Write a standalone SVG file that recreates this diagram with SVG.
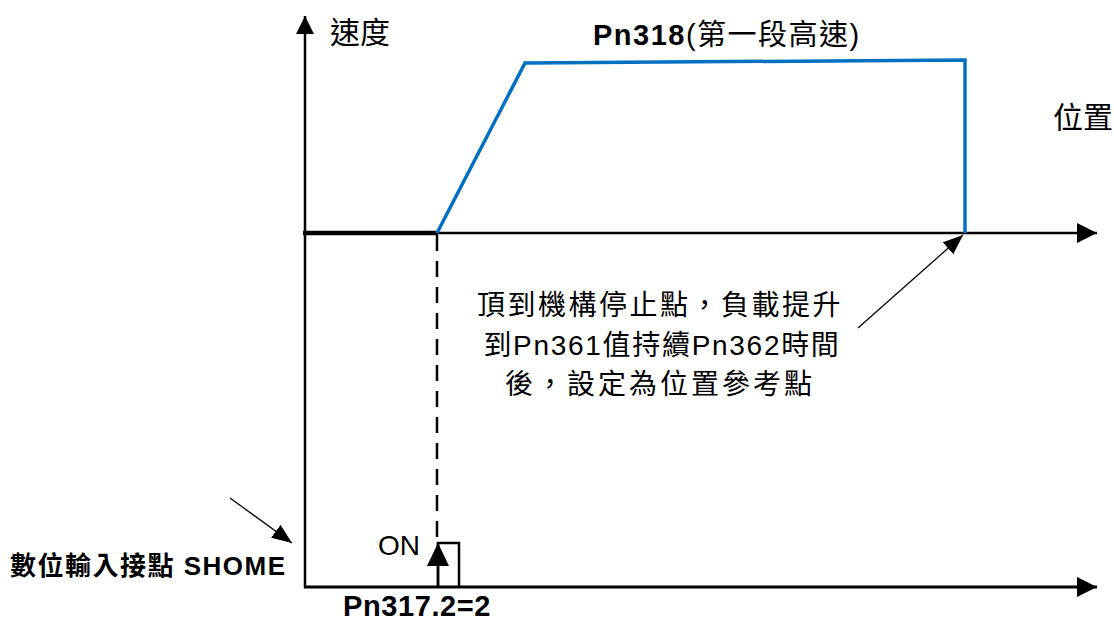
<svg xmlns="http://www.w3.org/2000/svg" width="1114" height="624" viewBox="0 0 1114 624">
<style>
.t{font-family:"Liberation Sans","Noto Sans CJK TC",sans-serif;fill:#000}
.cjk{font-family:"Noto Sans CJK TC","Liberation Sans",sans-serif;fill:#000}
.ax{stroke:#000;fill:none}
</style>
<defs>
<marker id="ahY" markerUnits="userSpaceOnUse" markerWidth="18" markerHeight="18" refX="18" refY="9" orient="auto" viewBox="0 0 18 18"><path d="M0,0L18,9L0,18z" fill="#000"/></marker>
<marker id="ahX" markerUnits="userSpaceOnUse" markerWidth="20" markerHeight="20" refX="20" refY="10" orient="auto" viewBox="0 0 20 20"><path d="M0,0L20,10L0,20z" fill="#000"/></marker>
<marker id="ahOn" markerUnits="userSpaceOnUse" markerWidth="23" markerHeight="22" refX="23" refY="11" orient="auto" viewBox="0 0 23 22"><path d="M0,0L23,11L0,22z" fill="#000"/></marker>
<marker id="ahS" markerUnits="userSpaceOnUse" markerWidth="20" markerHeight="16" refX="20" refY="8" orient="auto" viewBox="0 0 20 16"><path d="M0,0L20,8L0,16z" fill="#000"/></marker>
</defs>
<rect width="1114" height="624" fill="#fff"/>
<g id="connectors">
<path class="ax" d="M305,588V16" stroke-width="2.5" marker-end="url(#ahY)"/>
<path class="ax" d="M303,233H1097" stroke-width="2.5" marker-end="url(#ahX)"/>
<path class="ax" d="M303,233H438" stroke-width="4.5"/>
<path class="ax" d="M304,587H1097" stroke-width="3" marker-end="url(#ahX)"/>
<path class="ax" d="M437,235V541" stroke-width="2.5" stroke-dasharray="16 10"/>
<path d="M437,233L525,63L965,60V233" fill="none" stroke="#0070C0" stroke-width="3.5"/>
<path class="ax" d="M438,587V543H459V587" stroke-width="2.5"/>
<path class="ax" d="M438,587V543" stroke-width="2.5" marker-end="url(#ahOn)"/>
<path class="ax" d="M230,498L292,543" stroke-width="1.3" marker-end="url(#ahS)"/>
<path class="ax" d="M858,328L963,235" stroke-width="1.3" marker-end="url(#ahS)"/>
</g>
<g id="label-speed"><text class="cjk" x="330" y="43" font-size="30">速度</text></g>
<g id="label-pn318"><text class="t" x="593" y="45" font-size="29" letter-spacing="1.5"><tspan font-weight="bold">Pn318</tspan>(第一段高速)</text></g>
<g id="label-position"><text class="cjk" x="1053" y="128" font-size="30">位置</text></g>
<g id="label-note">
<text class="t" x="660" y="315" font-size="28" text-anchor="middle" letter-spacing="2.5">頂到機構停止點，負載提升</text>
<text class="t" x="662" y="355" font-size="28" text-anchor="middle" letter-spacing="1.7">到Pn361值持續Pn362時間</text>
<text class="t" x="660" y="394" font-size="28" text-anchor="middle" letter-spacing="3">後，設定為位置參考點</text>
</g>
<g id="label-on"><text class="t" x="378" y="555" font-size="28">ON</text></g>
<g id="label-shome"><text class="t" x="10" y="575" font-size="26" font-weight="bold" letter-spacing="1.5">數位輸入接點 SHOME</text></g>
<g id="label-pn317"><text class="t" x="343" y="616" font-size="29" font-weight="bold" letter-spacing="0.6">Pn317.2=2</text></g>
</svg>
